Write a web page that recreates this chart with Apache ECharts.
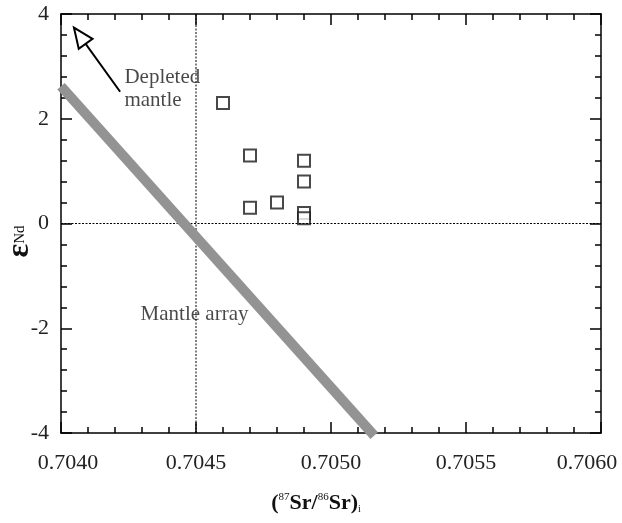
<!DOCTYPE html>
<html>
<head>
<meta charset="utf-8">
<script src="https://cdn.jsdelivr.net/npm/echarts@6/dist/echarts.min.js"></script>
<style>
html, body { margin: 0; padding: 0; background: #fff; }
#chart { width: 622px; height: 523px; }
</style>
</head>
<body>
<div id="chart"></div>
<script>
// samples
var srRatio = [0.7046, 0.7047, 0.7049, 0.7049, 0.7047, 0.7048, 0.7049, 0.7049];
var epsNd = [2.3, 1.3, 1.2, 0.8, 0.3, 0.4, 0.2, 0.1];

// mantle array band
var arrayX = [0.70400, 0.70516];
var arrayY = [2.62, -4.05];

// arrow towards depleted mantle
var arrowX = [0.704219, 0.704048];
var arrowY = [2.515, 3.74];

// reference lines
var refX = 0.7045;
var refY = 0;

var xMin = 0.7040, xMax = 0.7060, xStep = 0.0005;
var yMin = -4, yMax = 4, yStep = 2;

var notes = [
	{ x: 0.704233, y: 2.56, text: 'Depleted\nmantle' },
	{ x: 0.704293, y: -1.73, text: 'Mantle array' }
];

var serif = '"Liberation Serif", "Times New Roman", serif';

var points = [];
for (var i = 0; i < srRatio.length; i++) {
	points.push([srRatio[i], epsNd[i]]);
}
var band = [];
for (var i = 0; i < arrayX.length; i++) {
	band.push([arrayX[i], arrayY[i]]);
}
var arrow = [];
for (var i = 0; i < arrowX.length; i++) {
	arrow.push([arrowX[i], arrowY[i]]);
}

var axisLine = { show: true, onZero: false, lineStyle: { color: '#000', width: 1.5 } };

function xAxisOf(pos, withLabels) {
	return {
		type: 'value', position: pos, min: xMin, max: xMax, interval: xStep,
		axisLine: axisLine,
		axisTick: { show: true, inside: true, length: 11, lineStyle: { color: '#000', width: 1.5 } },
		minorTick: { show: true, splitNumber: 5, length: 6, lineStyle: { color: '#000', width: 1.5 } },
		splitLine: { show: false },
		axisLabel: {
			show: withLabels, margin: 19, color: '#222', fontFamily: serif, fontSize: 22,
			formatter: function (v) {
				var s = v.toFixed(4);
				if (Math.abs(v - xMin) < 1e-9) return '{first|' + s + '}';
				if (Math.abs(v - xMax) < 1e-9) return '{last|' + s + '}';
				return s;
			},
			rich: {
				first: { fontFamily: serif, fontSize: 22, color: '#222', padding: [0, 0, 0, 14] },
				last: { fontFamily: serif, fontSize: 22, color: '#222', padding: [0, 28, 0, 0] }
			}
		}
	};
}
function yAxisOf(pos, withLabels) {
	return {
		type: 'value', position: pos, min: yMin, max: yMax, interval: yStep,
		axisLine: axisLine,
		axisTick: { show: true, inside: true, length: 11, lineStyle: { color: '#000', width: 1.5 } },
		minorTick: { show: true, splitNumber: 5, length: 6, lineStyle: { color: '#000', width: 1.5 } },
		splitLine: { show: false },
		axisLabel: { show: withLabels, margin: 12, color: '#222', fontFamily: serif, fontSize: 22 }
	};
}

var xMain = xAxisOf('bottom', true);
xMain.name = '{p|(}{s|87}{b|Sr/}{s|86}{b|Sr)}{i|i}';
xMain.nameLocation = 'middle';
xMain.nameGap = 59;
xMain.nameTextStyle = {
	padding: [0, 30, 0, 0],
	rich: {
		p: { fontFamily: serif, fontWeight: 'bold', fontSize: 22, color: '#111' },
		b: { fontFamily: serif, fontWeight: 'bold', fontSize: 22, color: '#111' },
		s: { fontFamily: serif, fontSize: 11, color: '#111', verticalAlign: 'top', padding: [0, 0, 10, 0] },
		i: { fontFamily: serif, fontSize: 10, color: '#111', padding: [12, 0, 0, 0] }
	}
};
var yMain = yAxisOf('left', true);
yMain.name = '{e|ε}{n|Nd}';
yMain.nameLocation = 'middle';
yMain.nameRotate = 90;
yMain.nameGap = 25;
yMain.nameMoveOverlap = false;
yMain.nameTextStyle = {
	padding: [0, 36, 0, 0],
	rich: {
		e: { fontFamily: serif, fontWeight: 'bold', fontSize: 32, color: '#111' },
		n: { fontFamily: serif, fontSize: 15, color: '#111' }
	}
};

var chart = echarts.init(document.getElementById('chart'));
chart.setOption({
	animation: false,
	backgroundColor: '#fff',
	grid: { left: 61, right: 21, top: 14, bottom: 90, containLabel: false, outerBoundsMode: 'none' },
	xAxis: [xMain, xAxisOf('top', false)],
	yAxis: [yMain, yAxisOf('right', false)],
	series: [
		{
			type: 'line', data: [[refX, yMin], [refX, yMax]], symbol: 'none', silent: true,
			lineStyle: { color: '#000', width: 1, type: [2, 1.5] }
		},
		{
			type: 'line', data: [[xMin, refY], [xMax, refY]], symbol: 'none', silent: true,
			lineStyle: { color: '#000', width: 1, type: [2, 1.5] }
		},
		{
			type: 'line', data: band, symbol: 'none', clip: false, silent: true,
			lineStyle: { color: '#939393', width: 10, cap: 'butt' }
		},
		{
			type: 'line', data: arrow, symbol: 'none', silent: true,
			lineStyle: { color: '#000', width: 2 }
		},
		{
			type: 'scatter', data: points, symbol: 'rect', symbolSize: 12,
			itemStyle: { color: '#fff', borderColor: '#1a1a1a', borderWidth: 2 }
		},
		{
			type: 'scatter', symbolSize: 1, silent: true,
			itemStyle: { color: 'rgba(0,0,0,0)' },
			data: notes.map(function (n) { return { value: [n.x, n.y], name: n.text }; }),
			label: {
				show: true, position: 'right', distance: 0,
				formatter: function (p) { return p.name; },
				fontFamily: serif, fontSize: 21, lineHeight: 23, color: '#1a1a1a'
			}
		}
	]
});

// open arrow head, placed from data coordinates
var tip = chart.convertToPixel({ xAxisIndex: 0, yAxisIndex: 0 }, arrow[1]);
var tail = chart.convertToPixel({ xAxisIndex: 0, yAxisIndex: 0 }, arrow[0]);
var dx = tip[0] - tail[0], dy = tip[1] - tail[1];
var len = Math.sqrt(dx * dx + dy * dy);
var ux = dx / len, uy = dy / len;
var headLen = 20, headHalf = 8.5;
var bx = tip[0] - ux * headLen, by = tip[1] - uy * headLen;
chart.setOption({
	graphic: [{
		type: 'polygon', z: 10,
		shape: { points: [
			[tip[0], tip[1]],
			[bx - uy * headHalf, by + ux * headHalf],
			[bx + uy * headHalf, by - ux * headHalf]
		] },
		style: { fill: '#fff', stroke: '#000', lineWidth: 2 }
	}]
});
</script>
</body>
</html>
